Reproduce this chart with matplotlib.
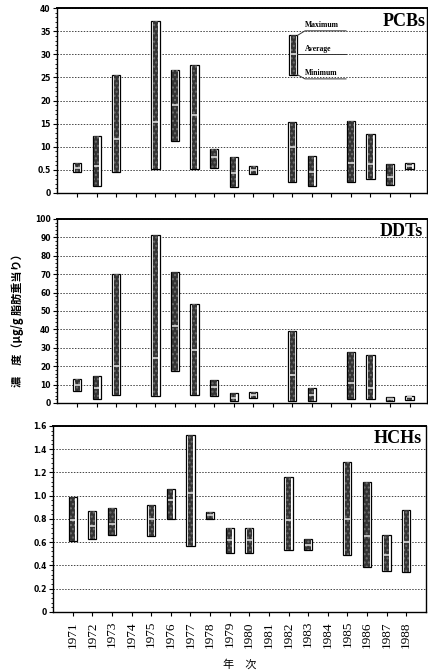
import numpy as np
import matplotlib.pyplot as plt
from matplotlib.ticker import MultipleLocator

years = [str(y) for y in range(1971, 1989)]
nan = np.nan

# PCBs (ug/g fat)
pcb_max = [6.4, 12.4, 25.5, nan, 37.3, 26.6, 27.6, 9.5, 7.9, 5.9, nan, 15.4, 8.0, nan, 15.5, 12.8, 6.2, 6.6]
pcb_avg = [5.5, 5.8, 11.7, nan, 15.4, 19.0, 16.8, 7.9, 4.4, 5.0, nan, 9.9, 4.5, nan, 6.6, 6.2, 3.5, 5.9]
pcb_min = [4.5, 1.6, 4.5, nan, 5.3, 11.3, 5.3, 5.5, 1.4, 4.2, nan, 2.4, 1.5, nan, 2.3, 3.1, 1.8, 5.1]

# DDTs
ddt_max = [13.0, 14.8, 70.0, nan, 91.0, 71.2, 53.9, 12.3, 5.4, 5.8, nan, 39.2, 8.1, nan, 27.5, 26.0, 3.3, 4.0]
ddt_avg = [9.6, 8.1, 20.0, nan, 24.4, 41.6, 29.0, 8.7, 2.7, 4.2, nan, 15.4, 4.5, nan, 10.8, 8.1, 2.4, 3.0]
ddt_min = [6.3, 2.2, 4.5, nan, 4.0, 17.5, 4.3, 4.0, 1.3, 2.7, nan, 0.9, 1.3, nan, 2.2, 2.4, 1.3, 1.8]

# HCHs
hch_max = [0.99, 0.87, 0.89, nan, 0.92, 1.06, 1.52, 0.86, 0.72, 0.72, nan, 1.16, 0.63, nan, 1.29, 1.12, 0.66, 0.88]
hch_avg = [0.79, 0.74, 0.76, nan, 0.80, 0.96, 1.02, 0.83, 0.62, 0.62, nan, 0.79, 0.58, nan, 0.80, 0.65, 0.49, 0.60]
hch_min = [0.61, 0.63, 0.66, nan, 0.65, 0.80, 0.57, 0.80, 0.51, 0.51, nan, 0.53, 0.53, nan, 0.49, 0.39, 0.35, 0.34]

# key bar drawn in the PCBs panel: max, avg, min
key_vals = [34.1, 30.0, 25.6]
key_labels = ["Maximum", "Average", "Minimum"]

pcb_ticks = [0, 5, 10, 15, 20, 25, 30, 35, 40]
pcb_ticklabels = ["0", "0.5", "10", "15", "20", "25", "30", "35", "40"]
ddt_ticks = list(range(0, 101, 10))
hch_ticks = [0, 0.2, 0.4, 0.6, 0.8, 1.0, 1.2, 1.4, 1.6]
hch_ticklabels = ["0", "0.2", "0.4", "0.6", "0.8", "1.0", "1.2", "1.4", "1.6"]

SERIF = "Liberation Serif"
x = np.arange(len(years))


def draw_bars(ax, vmax, vmin, vavg, xpos):
    vmax, vmin, vavg = np.asarray(vmax), np.asarray(vmin), np.asarray(vavg)
    ax.bar(xpos, vmax - vmin, bottom=vmin, width=0.42, facecolor="white",
           edgecolor="black", linewidth=0.9, zorder=3)
    ax.bar(xpos, vmax - vmin, bottom=vmin, width=0.27, facecolor="#333333",
           edgecolor="#6e6e6e", linewidth=0, hatch="....", zorder=4)
    ax.hlines(vavg, xpos - 0.135, xpos + 0.135, color="#e8e8e8", linewidth=1.1, zorder=5)


def style(ax, ticks, ticklabels, ylim, minor, title, title_x):
    ax.set_ylim(*ylim)
    ax.set_yticks(ticks)
    ax.set_yticklabels(ticklabels, fontsize=5.5, fontweight="bold")
    ax.yaxis.set_minor_locator(MultipleLocator(minor))
    ax.tick_params(axis="y", which="major", direction="out", length=3, width=0.8, pad=1.5)
    ax.tick_params(axis="y", which="minor", direction="out", length=1.5, width=0.6)
    ax.set_xticks(x)
    ax.tick_params(axis="x", direction="out", length=3, width=0.8)
    ax.grid(axis="y", linestyle=(0, (1.5, 1.5)), color="#444444", linewidth=0.7, zorder=0)
    for s in ax.spines.values():
        s.set_linewidth(1.0)
    ax.spines["top"].set_linewidth(1.4)
    ax.text(title_x, 0.93, title, transform=ax.transAxes, ha="right", va="center",
            fontsize=13, fontweight="bold", family=SERIF, zorder=6)


fig = plt.figure(figsize=(4.28, 6.72), dpi=100)
ax1 = fig.add_axes([0.133, 0.7128, 0.865, 0.275])
ax2 = fig.add_axes([0.133, 0.4003, 0.865, 0.274])
ax3 = fig.add_axes([0.124, 0.0893, 0.871, 0.277])

draw_bars(ax1, pcb_max, pcb_min, pcb_avg, x)
draw_bars(ax2, ddt_max, ddt_min, ddt_avg, x)
draw_bars(ax3, hch_max, hch_min, hch_avg, x)

style(ax1, pcb_ticks, pcb_ticklabels, (0, 40), 1, "PCBs", 0.995)
style(ax2, ddt_ticks, [str(t) for t in ddt_ticks], (0, 100), 2, "DDTs", 0.99)
style(ax3, hch_ticks, hch_ticklabels, (0, 1.6), 0.04, "HCHs", 0.99)

for ax in (ax1, ax2):
    ax.set_xlim(-1.04, 17.9)
    ax.set_xticklabels([])
ax3.set_xlim(-1.0, 18.0)
ax3.set_xticklabels(years, rotation=90, fontsize=9.5, family=SERIF)

# key in the PCBs panel
kx = 11.05
k_max, k_avg, k_min = key_vals
draw_bars(ax1, [k_max], [k_min], [k_avg], np.array([kx]))
line_kw = dict(color="#333333", linewidth=0.7, zorder=5)
ax1.plot([kx + 0.21, kx + 0.6, 13.75], [k_max, 35.1, 35.1], **line_kw)
ax1.plot([kx + 0.21, 13.75], [k_avg, k_avg], **line_kw)
ax1.plot([kx + 0.21, kx + 0.6, 13.75], [k_min, 24.7, 24.7], **line_kw)
for label, yv in zip(key_labels, [35.1, 30.0, 24.7]):
    ax1.text(11.65, yv + 0.4, label, fontsize=5.5, fontweight="bold", family=SERIF,
             ha="left", va="bottom", zorder=6)

fig.text(0.04, 0.527, "濃　度（μg/g 脂肪重当り）", rotation=90, ha="center", va="center",
         fontsize=8, fontweight="bold", family=["Noto Sans CJK JP", "DejaVu Sans"])
fig.text(0.56, 0.004, "年　次", ha="center", va="bottom", fontsize=8,
         family=["Noto Sans CJK JP", "DejaVu Sans"])

fig.savefig("out.png", dpi=100)
